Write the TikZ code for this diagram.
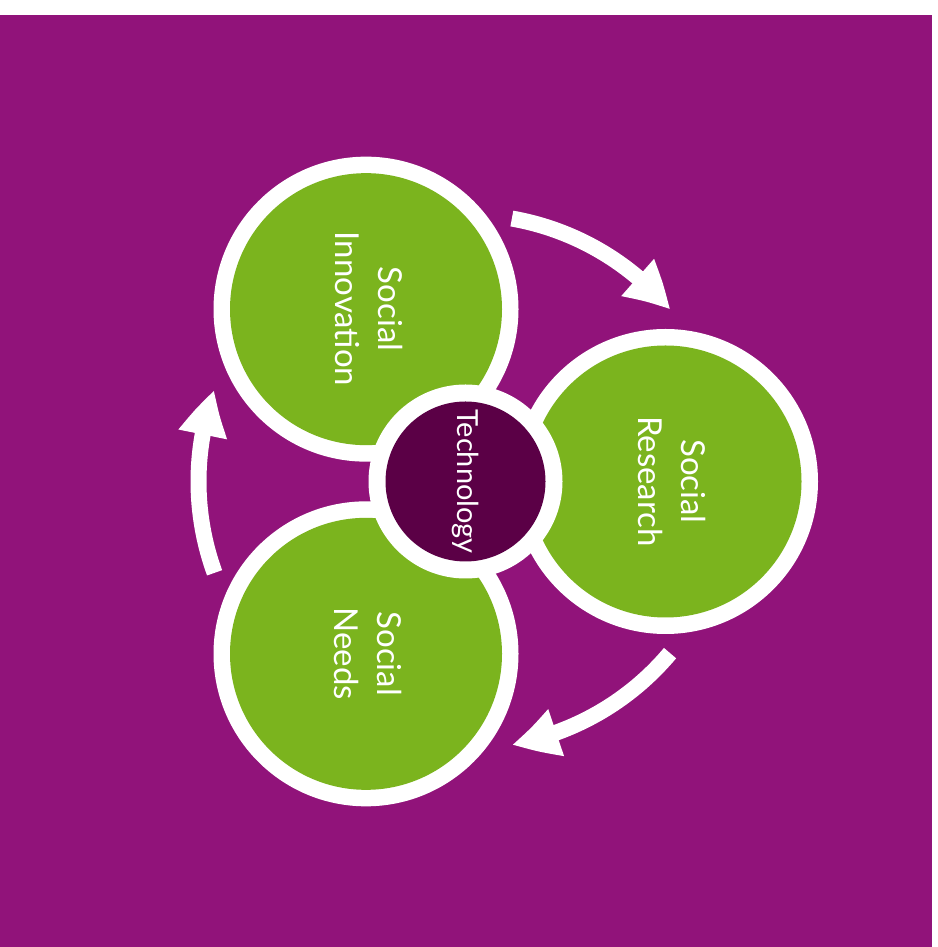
\documentclass[tikz,border=0pt]{standalone}
\usepackage{fontspec}
\setmainfont{Lato}
\usetikzlibrary{arrows.meta,bending,calc}
\definecolor{bgpurple}{RGB}{145,19,122}
\definecolor{leafgreen}{RGB}{123,180,30}
\definecolor{techdark}{RGB}{91,0,70}
\tikzset{
  ringdisk/.style={circle, fill=white, draw=none, minimum size=305pt, inner sep=0pt},
  greendisk/.style={circle, fill=leafgreen, draw=none, minimum size=272pt, inner sep=0pt},
  techring/.style={circle, fill=white, draw=none, minimum size=194pt, inner sep=0pt},
  techdisk/.style={circle, fill=techdark, draw=none, minimum size=160pt, inner sep=0pt},
  cyclearrow/.style={draw=white, line width=16pt, -{Triangle[length=46pt,width=46pt,bend]}},
  lbl/.style={text=white, align=center, rotate=-90},
  biglbl/.style={lbl, font=\fontsize{33}{43}\selectfont},
  techlbl/.style={lbl, font=\fontsize{29}{34}\selectfont},
}
\begin{document}
\begin{tikzpicture}[x=1pt,y=1pt]
  \useasboundingbox (0,0) rectangle (937,947);
  \fill[white] (0,0) rectangle (937,947);
  \fill[bgpurple] (0,0) rectangle (932,932);
  \coordinate (ctr) at (465.5,465.5);
  % cycle arrows
  \draw[cyclearrow] ($(ctr)+(80:267)$) arc[start angle=80, end angle=40, radius=267];
  \draw[cyclearrow] ($(ctr)+(-40:267)$) arc[start angle=-40, end angle=-80, radius=267];
  \draw[cyclearrow] ($(ctr)+(200:267)$) arc[start angle=200, end angle=160, radius=267];
  % outer white rings
  \node[ringdisk] (innoR) at ($(ctr)+(120:199)$) {};
  \node[ringdisk] (reseR) at ($(ctr)+(0:200)$) {};
  \node[ringdisk] (needR) at ($(ctr)+(240:199)$) {};
  % green disks
  \node[greendisk] (inno) at (innoR) {};
  \node[greendisk] (rese) at (reseR) {};
  \node[greendisk] (need) at (needR) {};
  % technology
  \node[techring] (techR) at (ctr) {};
  \node[techdisk] (tech) at (ctr) {};
  % labels
  \node[biglbl] (innoT) at ($(inno)+(3,0)$) {Social\\Innovation};
  \node[biglbl] (reseT) at ($(rese)+(7,0)$) {Social\\Research};
  \node[biglbl] (needT) at ($(need)+(2,0)$) {Social\\Needs};
  \node[techlbl] (techT) at (tech) {Technology};
\end{tikzpicture}
\end{document}
